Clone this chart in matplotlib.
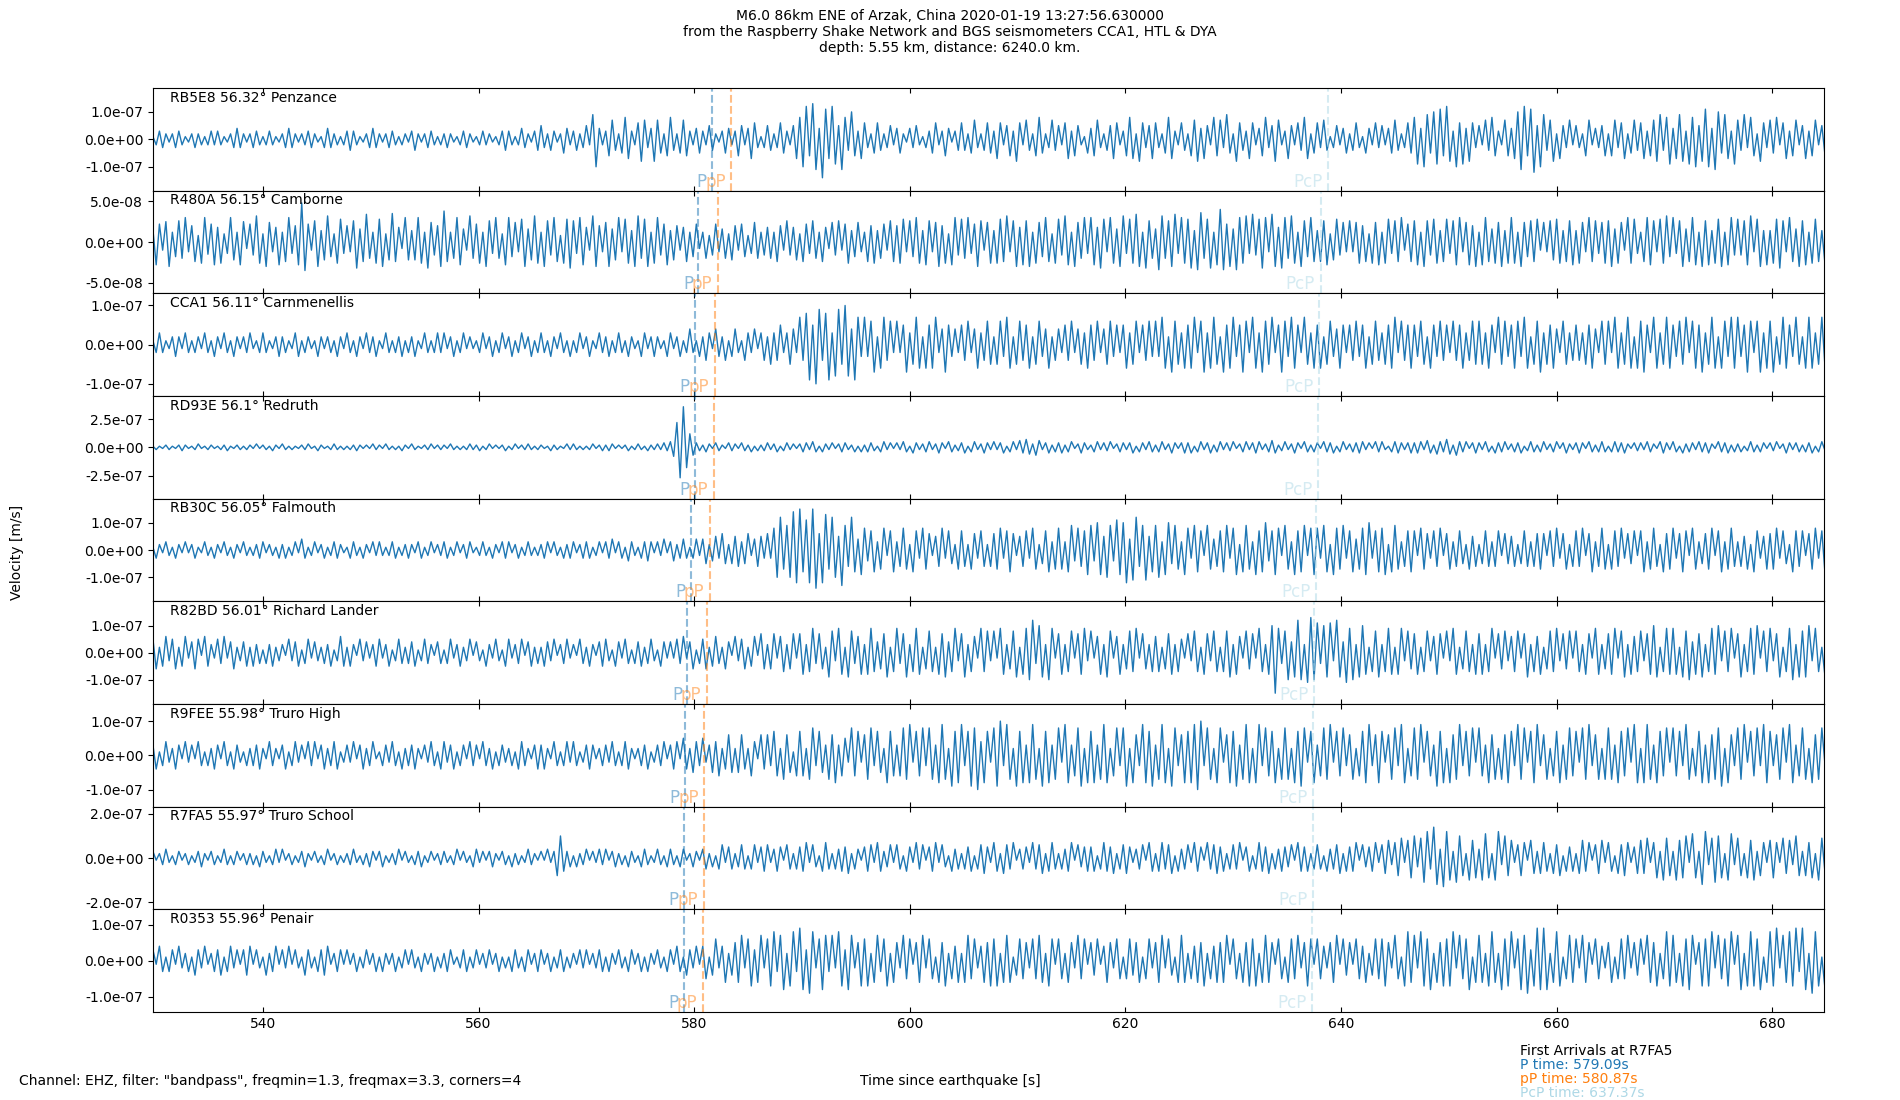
"""
Seismic record section: M6.0 Arzak event on Cornish Raspberry Shake / BGS stations
"""

import numpy as np
import matplotlib.pyplot as plt
from matplotlib.ticker import FormatStrFormatter

title = ("M6.0 86km ENE of Arzak, China 2020-01-19 13:27:56.630000\n"
         "from the Raspberry Shake Network and BGS seismometers CCA1, HTL & DYA\n"
         "depth: 5.55 km, distance: 6240.0 km.")
filter_note = 'Channel: EHZ, filter: "bandpass", freqmin=1.3, freqmax=3.3, corners=4'

stations = ["RB5E8", "R480A", "CCA1", "RD93E", "RB30C", "R82BD", "R9FEE", "R7FA5", "R0353"]
distances = [56.32, 56.15, 56.11, 56.1, 56.05, 56.01, 55.98, 55.97, 55.96]
places = ["Penzance", "Camborne", "Carnmenellis", "Redruth", "Falmouth",
          "Richard Lander", "Truro High", "Truro School", "Penair"]

# phase arrival times [s since origin]
p_times = [581.65, 580.40, 580.11, 580.04, 579.67, 579.38, 579.16, 579.09, 579.02]
pp_times = [583.43, 582.18, 581.89, 581.82, 581.45, 581.16, 580.94, 580.87, 580.80]
pcp_times = [638.79, 638.10, 637.94, 637.90, 637.69, 637.53, 637.41, 637.37, 637.33]

# traces start at 529.8 s, one value every 0.3 s
t_start = 529.8
dt = 0.3

# velocity samples, units below (1e-8 m/s, R480A in 1e-9 m/s)
units = [1e-8, 1e-9, 1e-8, 1e-8, 1e-8, 1e-8, 1e-8, 1e-8, 1e-8]

rb5e8 = [
    1,-2,3,-3,2,-1,2,-3,3,-2, 1,-1,2,-3,2,-2,1,-2,3,-2, 3,-2,1,-1,2,-3,4,-3,2,-1,
    2,-3,3,-2,1,-2,3,-2,1,-1, 2,-3,4,-3,2,-1,2,-2,3,-3, 2,-1,1,-3,4,-3,2,-2,1,-2,
    3,-4,3,-2,1,-1,2,-3,4,-3, 2,-1,2,-3,3,-2,1,-2,2,-1, 3,-4,2,-1,2,-3,3,-2,1,-2,
    2,-3,2,-1,1,-2,3,-3,2,-1, 1,-2,3,-2,2,-1,1,-2,3,-4, 3,-2,1,-2,4,-3,2,-1,3,-4,
    5,-3,2,-4,3,-1,2,-5,4,-2, 3,-4,2,-3,5,-2,9,-10,4,-2, 3,-6,7,-4,2,-5,8,-7,3,-2,
    6,-8,7,-3,4,-8,7,-5,2,-6, 8,-4,2,-5,7,-6,3,-2,4,-5, 3,-2,5,-4,2,-1,3,-5,4,-2,
    3,-6,5,-2,4,-7,6,-3,1,-3, 5,-4,2,-3,6,-5,3,-2,5,-7, 8,-10,12,-6,13,-11,4,-14,11,-7,
    12,-9,5,-11,8,-4,10,-6,3,-7, 6,-3,2,-5,6,-4,2,-3,5,-2, 4,-5,2,-1,4,-3,5,-2,1,-3,
    3,-5,6,-2,3,-6,4,-1,3,-4, 6,-4,2,-5,7,-3,2,-4,6,-5, 3,-7,6,-2,5,-6,3,-8,6,-2,
    7,-4,2,-6,8,-5,2,-3,7,-4, 5,-2,6,-7,3,-6,5,-2,1,-5, 4,-6,7,-3,2,-4,5,-7,6,-2,
    3,-6,8,-7,2,-8,6,-3,5,-7, 6,-3,2,-5,8,-7,3,-2,6,-4, 2,-6,7,-8,4,-7,5,-2,8,-6,
    7,-3,9,-5,2,-8,6,-4,3,-7, 6,-2,4,-6,8,-3,5,-8,7,-2, 3,-7,5,-2,6,-4,8,-7,2,-5,
    6,-3,7,-4,1,-3,5,-2,4,-5, 2,-4,6,-3,1,-5,4,-2,6,-3, 5,-2,4,-5,7,-4,2,-3,6,-5,
    8,-9,4,-10,9,-5,10,-9,11,-6, 12,-8,3,-10,6,-9,4,-8,6,-3, 5,-2,7,-4,8,-6,3,-2,7,-6,
    4,-7,10,-11,12,-6,11,-12,5,-10, 9,-4,7,-8,2,-7,5,-3,7,-2, 5,-3,2,-6,7,-2,4,-3,5,-6,
    2,-6,7,-3,6,-7,2,-5,7,-4, 6,-7,3,-6,7,-8,9,-4,8,-9, 4,-7,9,-8,3,-9,8,-10,5,-8,
    11,-10,4,-11,10,-5,9,-7,3,-9, 7,-4,9,-3,8,-6,2,-8,6,-3, 7,-5,8,-2,6,-7,3,-6,7,-2,
    5,-7,3,-6,7,-2,5,-6,4,-5,
]

r480a = [
    15,-28,22,-10,25,-30,12,-18,26,-20, 30,-12,20,-24,8,-26,30,-15,22,-28,
    18,-26,10,-14,30,-22,12,-28,25,-8, 22,-16,32,-26,10,-30,24,-12,18,-28,
    12,-24,30,-14,20,-28,48,-35,22,-10, 26,-30,14,-22,32,-18,10,-26,28,-14,
    20,-12,26,-32,16,-24,34,-20,12,-26, 28,-30,10,-22,35,-24,18,-8,30,-22,
    14,-22,30,-26,12,-32,24,-16,20,-30, 38,-24,12,-20,30,-28,16,-10,32,-20,
    22,-26,12,-30,26,-14,30,-20,10,-28, 30,-18,24,-12,28,-30,16,-22,32,-26,
    12,-30,26,-16,30,-24,8,-26,28,-32, 26,-14,30,-28,18,-10,32,-30,20,-12,
    24,-30,16,-22,30,-12,28,-26,14,-30, 32,-20,28,-30,12,-26,30,-16,22,-28,
    14,-22,20,-10,18,-24,12,-18,22,-8, 12,-20,8,-16,22,-12,16,-20,10,-22,
    20,-10,22,-18,8,-14,24,-20,12,-16, 18,-20,12,-24,20,-10,26,-16,18,-22,
    10,-24,22,-14,26,-20,12,-24,18,-8, 24,-16,26,-10,22,-26,14,-18,24,-12,
    12,-24,20,-26,14,-20,22,-10,26,-24, 20,-26,28,-12,26,-18,30,-26,14,-28,
    26,-12,24,-30,20,-26,10,-28,30,-16, 28,-20,30,-14,22,-30,26,-10,24,-26,
    14,-26,28,-24,32,-12,26,-30,18,-28, 26,-30,12,-26,24,-18,30,-24,10,-26,
    28,-16,32,-28,12,-30,24,-20,30,-14, 30,-28,18,-32,28,-12,30,-26,16,-30,
    32,-14,28,-26,34,-30,12,-32,26,-20, 16,-34,32,-20,26,-30,34,-14,30,-26,
    28,-32,14,-34,36,-20,28,-32,12,-28, 40,-34,22,-30,16,-34,30,-26,32,-14,
    34,-16,28,-32,30,-12,34,-30,18,-32, 30,-20,32,-26,12,-30,26,-18,30,-24,
    14,-24,26,-28,10,-22,28,-16,24,-12, 26,-12,24,-26,20,-24,10,-26,24,-28,
    12,-26,28,-14,26,-24,30,-10,22,-24, 26,-28,12,-30,26,-16,28,-26,14,-24,
    28,-14,26,-28,30,-12,24,-28,20,-30, 12,-28,30,-24,16,-26,24,-30,14,-26,
    30,-26,12,-30,24,-18,26,-24,28,-10, 24,-12,26,-22,28,-26,14,-24,26,-28,
    14,-26,24,-12,30,-24,26,-14,24,-26, 26,-30,16,-26,24,-10,30,-26,28,-14,
    12,-24,30,-28,26,-12,28,-26,32,-18, 30,-14,26,-30,16,-24,30,-28,12,-30,
    26,-28,14,-26,28,-30,12,-28,30,-16, 28,-16,26,-28,32,-12,28,-30,14,-28,
    14,-26,28,-32,26,-12,30,-24,16,-30, 26,-28,12,-26,28,-24,14,-28,26,-10,
]

cca1 = [
    1,-2,3,-2,1,-1,2,-3,2,-1, 3,-2,1,-2,2,-1,3,-2,1,-3, 2,-1,3,-2,1,-3,2,-1,2,-2,
    3,-1,1,-2,3,-2,1,-1,2,-3, 2,-2,1,-1,3,-3,1,-2,2,-1, 1,-3,2,-1,2,-2,1,-3,2,-1,
    3,-2,1,-3,2,-1,3,-2,2,-3, 1,-1,3,-2,1,-2,2,-3,1,-2, 2,-3,1,-1,3,-2,1,-2,3,-2,
    3,-1,2,-3,1,-2,3,-1,2,-1, 1,-2,3,-1,2,-3,1,-2,3,-1, 2,-3,1,-2,3,-1,2,-3,1,-2,
    3,-2,1,-3,2,-1,3,-2,1,-3, 1,-2,3,-1,2,-3,1,-1,3,-2, 2,-3,1,-2,3,-2,1,-3,2,-1,
    1,-3,3,-1,2,-3,2,-1,1,-3, 3,-1,2,-3,1,-2,4,-2,1,-3, 2,-4,3,-1,4,-3,2,-4,1,-3,
    4,-2,1,-4,3,-2,4,-1,3,-4, 2,-5,3,-4,5,-2,3,-5,4,-2, 7,-4,8,-9,5,-10,9,-4,8,-9,
    3,-8,9,-5,10,-8,4,-9,7,-3, 7,-3,6,-7,2,-6,7,-4,6,-2, 6,-2,5,-7,3,-5,7,-6,2,-6,
    5,-6,7,-2,4,-7,5,-3,4,-2, 5,-4,6,-2,4,-6,3,-4,6,-5, 2,-5,6,-3,7,-6,2,-5,6,-4,
    5,-6,2,-5,6,-3,4,-6,2,-4, 4,-2,5,-4,6,-2,4,-5,3,-6, 5,-4,6,-2,4,-5,6,-3,5,-2,
    5,-6,3,-5,6,-2,5,-4,6,-3, 6,-3,7,-6,2,-7,6,-5,3,-6, 5,-6,7,-2,6,-7,3,-6,7,-5,
    2,-7,5,-6,7,-3,5,-7,6,-2, 7,-6,3,-7,6,-5,7,-2,5,-7, 6,-3,7,-6,5,-2,7,-5,3,-6,
    5,-6,2,-5,6,-3,4,-6,5,-2, 5,-4,6,-3,5,-6,2,-5,6,-4, 3,-5,5,-6,7,-2,6,-4,5,-6,
    5,-3,6,-5,2,-6,5,-3,6,-4, 5,-2,6,-4,5,-6,3,-4,6,-5, 6,-5,3,-6,5,-2,7,-5,6,-3,
    5,-6,6,-3,7,-6,2,-5,6,-7, 3,-5,5,-6,4,-2,6,-5,3,-4, 5,-4,3,-5,5,-6,4,-2,6,-5,
    6,-2,7,-6,3,-5,7,-6,2,-6, 6,-7,5,-2,7,-6,3,-5,7,-6, 5,-3,6,-5,7,-2,6,-6,5,-7,
    3,-5,7,-6,2,-6,6,-3,7,-6, 7,-3,5,-7,6,-2,6,-7,3,-6, 6,-7,2,-5,7,-6,5,-3,7,-5,
    2,-6,7,-6,3,-5,7,-6,5,-2,
]

rd93e = [
    1,-2,1,-1,2,-2,1,-1,2,-3, 2,-1,1,-2,3,-1,1,-2,2,-1, 1,-2,2,-3,1,-1,2,-2,1,-2,
    2,-1,3,-1,2,-2,1,-3,2,-1, 3,-2,1,-2,1,-1,2,-2,3,-1, 1,-3,2,-1,1,-2,3,-2,1,-2,
    1,-2,2,-3,2,-1,2,-1,3,-2, 2,-1,3,-2,1,-2,1,-3,2,-1, 3,-2,1,-1,2,-2,3,-1,2,-2,
    2,-1,3,-2,1,-2,1,-2,3,-2, 2,-3,1,-2,3,-1,2,-1,2,-3, 1,-2,3,-1,2,-2,3,-2,1,-2,
    2,-1,1,-3,2,-2,1,-1,3,-2, 3,-2,1,-2,1,-2,3,-1,2,-3, 2,-3,3,-1,2,-1,2,-3,1,-2,
    3,-2,1,-3,2,-2,3,-2,4,-3, 5,-8,22,-27,36,-18,12,-7,4,-3, 2,-4,3,-1,4,-3,2,-1,4,-3,
    3,-1,4,-3,2,-4,1,-3,2,-3, 4,-2,3,-4,1,-3,4,-2,3,-1, 3,-4,4,-2,5,-4,1,-4,3,-2,
    4,-1,3,-4,4,-2,2,-4,1,-4, 2,-4,4,-3,1,-4,5,-2,4,-1, 4,-2,5,-4,1,-5,4,-2,3,-4,
    5,-2,3,-5,4,-1,5,-4,2,-3, 4,-5,1,-4,5,-2,3,-5,4,-2, 5,-2,4,-5,1,-4,5,-2,6,-5,
    7,-6,3,-7,6,-2,4,-5,2,-4, 4,-5,2,-4,5,-1,3,-5,4,-2, 2,-4,5,-2,4,-3,5,-1,3,-4,
    4,-2,4,-5,1,-4,4,-2,5,-4, 2,-4,5,-2,3,-5,4,-1,4,-5, 4,-5,1,-4,5,-2,4,-5,2,-4,
    5,-2,4,-3,5,-1,3,-4,5,-2, 4,-5,5,-2,3,-4,6,-5,2,-3, 5,-2,3,-5,4,-1,5,-4,2,-4,
    4,-1,5,-4,4,-5,1,-4,5,-2, 3,-4,4,-5,5,-2,4,-1,5,-4, 5,-2,1,-4,5,-5,4,-2,4,-5,
    4,-5,5,-2,6,-5,2,-6,5,-4, 7,-6,2,-7,5,-4,5,-1,4,-5, 4,-2,5,-4,1,-5,4,-4,5,-2,
    3,-4,4,-5,1,-3,5,-4,2,-4, 5,-2,3,-4,5,-1,4,-5,3,-2, 4,-5,4,-1,5,-4,2,-4,5,-4,
    1,-4,5,-4,4,-5,3,-1,4,-3, 4,-2,5,-4,3,-1,5,-5,4,-2, 5,-4,1,-5,3,-4,4,-2,5,-4,
    4,-5,3,-1,5,-4,4,-5,2,-4, 3,-4,1,-3,5,-4,2,-4,4,-1, 4,-3,5,-1,3,-5,4,-2,4,-4,
    2,-4,4,-5,1,-4,5,-3,2,-3,
]

rb30c = [
    1,-3,2,-1,3,-2,1,-3,2,-1, 3,-1,2,-3,1,-1,3,-2,1,-3, 2,-1,3,-2,1,-3,2,-1,3,-2,
    1,-2,2,-3,3,-1,2,-2,1,-3, 2,-3,1,-2,3,-1,4,-3,1,-2, 3,-1,2,-3,1,-2,3,-3,2,-1,
    1,-3,3,-2,1,-3,2,-1,3,-2, 3,-2,1,-2,3,-3,1,-2,2,-3, 2,-1,3,-3,1,-2,3,-1,2,-2,
    3,-3,1,-2,3,-1,2,-3,3,-1, 1,-2,3,-2,1,-3,2,-1,3,-3, 3,-1,2,-3,1,-2,3,-2,1,-2,
    2,-3,3,-1,3,-2,1,-3,2,-3, 3,-1,2,-3,3,-3,1,-2,3,-1, 3,-3,4,-1,3,-3,1,-4,3,-2,
    1,-3,3,-4,3,-1,3,-2,4,-1, 3,-4,2,-3,4,-3,1,-3,4,-2, 4,-5,2,-4,5,-3,6,-5,2,-5,
    5,-6,3,-5,6,-2,4,-6,5,-3, 6,-3,8,-10,12,-7,9,-10,14,-12, 15,-8,11,-12,15,-14,6,-12,13,-7,
    12,-10,5,-13,9,-6,12,-8,4,-9, 8,-4,7,-8,3,-7,8,-2,7,-8, 3,-6,8,-7,2,-8,7,-3,8,-7,
    6,-2,5,-6,8,-3,7,-5,2,-7, 7,-6,2,-7,6,-3,7,-6,2,-6, 6,-7,8,-3,7,-8,6,-2,5,-6,
    7,-3,8,-7,2,-5,7,-8,3,-7, 8,-7,3,-8,9,-4,8,-6,7,-9, 9,-4,10,-9,5,-10,9,-4,11,-9,
    10,-12,4,-11,12,-6,9,-11,5,-8, 9,-10,3,-9,10,-5,9,-7,3,-9, 8,-3,9,-8,7,-2,9,-7,4,-6,
    7,-8,9,-3,8,-9,2,-8,9,-7, 3,-9,7,-8,10,-4,7,-9,8,-2, 9,-7,3,-9,7,-8,9,-2,8,-9,
    8,-3,9,-8,2,-9,8,-7,9,-3, 7,-8,4,-7,8,-9,10,-3,7,-8, 8,-9,2,-8,9,-7,3,-6,7,-8,
    7,-2,8,-7,6,-3,7,-6,8,-2, 6,-7,3,-6,7,-5,2,-7,5,-6, 2,-5,7,-6,3,-6,7,-2,6,-5,
    5,-6,2,-5,7,-6,3,-6,6,-7, 6,-2,7,-6,8,-3,6,-7,2,-6, 7,-6,8,-2,6,-8,3,-6,8,-7,
    2,-7,7,-6,8,-3,6,-5,7,-2, 7,-8,3,-7,8,-6,2,-8,6,-7, 8,-3,6,-8,7,-2,8,-7,3,-5,
    6,-7,8,-2,7,-8,3,-7,8,-6, 3,-6,5,-7,2,-8,7,-3,5,-7, 6,-7,8,-3,7,-5,2,-8,7,-6,
    7,-2,6,-7,8,-3,7,-9,2,-7,
]

r82bd = [
    5,-6,2,-5,6,-3,5,-6,2,-5, 6,-2,4,-6,5,-1,6,-5,3,-2, 5,-4,6,-2,4,-6,2,-3,4,-5,
    2,-5,3,-4,1,-4,3,-5,2,-3, 3,-1,5,-3,4,-5,1,-4,5,-2, 4,-3,2,-4,3,-5,1,-3,6,-5,
    2,-5,3,-1,5,-3,4,-2,3,-5, 5,-2,3,-5,1,-3,5,-4,2,-4, 4,-5,1,-3,5,-4,3,-1,4,-4,
    1,-4,5,-2,3,-5,2,-3,5,-1, 4,-3,1,-5,3,-2,5,-3,1,-5, 5,-2,3,-4,5,-1,4,-5,2,-4,
    2,-5,4,-3,5,-1,3,-4,5,-2, 3,-1,5,-4,2,-5,3,-1,4,-5, 5,-3,1,-5,4,-2,5,-4,1,-4,
    4,-5,2,-4,5,-3,1,-5,4,-2, 4,-2,5,-4,6,-2,4,-6,1,-4, 5,-6,2,-5,6,-4,2,-6,4,-1,
    6,-3,5,-6,2,-5,6,-1,7,-6, 3,-6,7,-2,6,-7,3,-6,7,-2, 7,-8,3,-7,9,-4,7,-6,2,-9,
    8,-3,9,-8,2,-9,8,-4,6,-8, 3,-8,9,-7,4,-6,7,-9,2,-7, 9,-4,7,-9,3,-7,9,-8,2,-6,
    8,-7,2,-8,7,-9,4,-7,9,-3, 7,-9,3,-7,6,-2,9,-7,8,-3, 8,-2,9,-8,3,-6,8,-9,2,-8,
    9,-10,12,-4,10,-9,3,-10,9,-2, 7,-8,3,-7,8,-2,7,-8,9,-3, 8,-2,6,-8,3,-9,8,-2,6,-8,
    3,-6,8,-7,9,-2,7,-6,3,-7, 6,-7,2,-6,7,-8,3,-7,5,-2, 7,-3,8,-7,2,-8,7,-3,8,-7,
    2,-7,8,-9,3,-8,6,-2,8,-6, 7,-2,9,-7,3,-8,10,-15,9,-4, 8,-10,4,-9,12,-10,3,-11,13,-10,
    11,-4,10,-9,11,-3,12,-9,4,-11, 9,-10,3,-9,10,-8,2,-7,8,-9, 3,-7,9,-8,2,-8,9,-3,8,-6,
    7,-8,2,-7,8,-3,6,-8,7,-2, 8,-3,9,-8,2,-6,8,-7,3,-8, 7,-8,3,-7,9,-2,7,-6,8,-3,
    6,-7,8,-2,7,-9,3,-7,6,-8, 2,-6,8,-7,9,-3,7,-6,8,-2, 8,-7,3,-8,7,-2,9,-8,3,-6,
    7,-8,9,-2,8,-9,3,-8,6,-7, 8,-3,7,-8,10,-9,2,-7,9,-8, 9,-8,2,-9,8,-10,4,-8,7,-9,
    3,-7,9,-8,10,-3,8,-7,9,-2, 7,-9,3,-7,9,-8,10,-2,8,-7, 9,-3,7,-9,2,-7,9,-10,3,-9,
    8,-9,10,-3,9,-7,2,-9,7,-8,
]

r9fee = [
    3,-4,1,-3,4,-2,2,-4,3,-1, 4,-2,3,-1,4,-3,1,-3,2,-4, 3,-1,4,-3,1,-4,3,-2,1,-3,
    2,-3,3,-4,2,-1,4,-3,2,-1, 3,-4,1,-3,4,-2,3,-1,4,-3, 4,-1,3,-4,2,-3,4,-4,1,-2,
    3,-2,4,-1,3,-4,2,-3,4,-1, 1,-3,3,-2,4,-3,1,-4,2,-3, 3,-4,2,-1,3,-2,4,-3,1,-4,
    4,-2,3,-4,1,-3,3,-1,4,-3, 3,-1,4,-3,2,-4,1,-3,3,-2, 2,-3,1,-4,4,-3,2,-1,3,-4,
    3,-4,2,-1,4,-3,1,-3,4,-2, 4,-3,1,-2,3,-4,3,-1,2,-3, 3,-2,4,-3,1,-3,4,-4,2,-1,
    2,-3,3,-4,1,-2,3,-3,4,-1, 3,-4,4,-1,5,-4,2,-5,4,-3, 5,-2,3,-5,4,-6,2,-4,6,-5,
    2,-5,6,-4,2,-6,4,-1,6,-4, 6,-3,7,-6,2,-7,6,-5,1,-6, 7,-6,2,-7,8,-3,7,-5,3,-7,
    6,-8,3,-6,5,-2,8,-6,7,-2, 6,-7,8,-3,7,-5,2,-8,7,-6, 3,-6,8,-7,9,-2,7,-6,8,-3,
    8,-7,3,-8,9,-7,2,-9,7,-8, 9,-3,7,-9,8,-10,4,-8,7,-2, 8,-9,10,-3,9,-7,2,-9,7,-8,
    3,-8,9,-7,2,-9,7,-8,3,-7, 8,-2,9,-8,3,-6,8,-9,2,-8, 7,-8,3,-7,9,-8,2,-6,8,-3,
    8,-9,2,-8,6,-3,9,-8,7,-9, 3,-7,9,-8,2,-9,8,-3,6,-8, 7,-8,9,-10,10,-3,8,-7,2,-8,
    8,-2,6,-8,7,-9,3,-7,9,-8, 2,-8,9,-3,8,-6,7,-8,2,-7, 8,-7,2,-8,7,-9,8,-2,7,-8,
    3,-6,8,-7,9,-2,7,-6,8,-3, 6,-7,2,-6,7,-8,9,-3,6,-8, 7,-2,6,-7,8,-3,9,-8,2,-6,
    8,-7,9,-2,7,-6,3,-9,7,-8, 2,-8,6,-7,9,-3,7,-6,8,-2, 8,-6,3,-8,6,-7,2,-7,6,-8,
    7,-3,9,-7,8,-2,7,-8,9,-3, 6,-7,2,-6,7,-8,3,-7,8,-6, 7,-2,8,-7,9,-3,6,-7,2,-7,
    8,-7,3,-8,7,-6,8,-2,9,-8, 2,-8,9,-7,3,-8,7,-6,8,-2, 8,-6,7,-3,9,-7,2,-6,7,-8,
    3,-8,6,-7,8,-9,2,-8,6,-3, 8,-7,9,-2,7,-6,8,-3,9,-8, 7,-3,6,-7,8,-2,9,-8,3,-6,
    8,-7,2,-8,6,-7,8,-3,7,-8,
]

r7fa5 = [
    3,-1,2,-3,4,-2,1,-3,3,-1, 2,-3,1,-2,3,-4,2,-1,3,-3, 1,-2,4,-3,1,-3,3,-1,2,-3,
    2,-3,1,-4,3,-2,1,-3,4,-2, 4,-1,2,-3,1,-2,3,-4,2,-1, 3,-2,1,-3,4,-1,2,-3,1,-2,
    2,-3,4,-2,1,-3,2,-4,3,-1, 3,-4,1,-2,2,-3,4,-1,3,-2, 1,-3,3,-4,1,-2,3,-1,2,-3,
    3,-2,1,-3,4,-1,3,-2,1,-4, 4,-2,3,-1,3,-4,2,-1,3,-3, 1,-4,2,-3,1,-2,4,-3,2,-1,
    3,-1,4,-2,3,-8,10,-6,3,-4, 1,-4,2,-3,4,-1,3,-2,4,-3, 4,-1,3,-4,2,-3,1,-4,3,-2,
    1,-4,4,-3,1,-2,4,-3,1,-4, 4,-3,1,-4,4,-1,2,-4,3,-1, 4,-5,2,-4,1,-5,6,-2,5,-5,
    2,-4,6,-5,1,-5,6,-2,5,-6, 6,-2,4,-6,5,-1,6,-5,2,-5, 5,-6,7,-2,6,-4,1,-6,7,-5,
    2,-5,4,-6,5,-7,2,-5,4,-1, 5,-6,6,-2,7,-6,3,-4,6,-2, 6,-5,1,-6,5,-2,7,-5,6,-1,
    5,-6,7,-2,6,-4,1,-6,4,-5, 2,-5,5,-6,1,-5,6,-7,5,-2, 7,-6,2,-7,6,-5,7,-1,4,-5,
    5,-2,7,-5,6,-7,2,-6,7,-5, 2,-5,4,-6,7,-1,6,-4,5,-6, 5,-6,1,-5,7,-6,5,-7,2,-5,
    6,-7,5,-2,4,-5,6,-1,7,-6, 2,-6,7,-5,6,-7,1,-6,4,-5, 6,-2,7,-6,5,-1,7,-5,6,-7,
    5,-6,2,-5,6,-5,7,-1,5,-6, 1,-5,7,-6,5,-7,2,-5,4,-6, 5,-4,6,-1,7,-6,5,-6,2,-5,
    6,-5,1,-6,4,-5,6,-7,2,-6, 5,-6,7,-1,6,-4,5,-6,7,-2, 6,-7,8,-3,7,-8,9,-2,8,-9,
    10,-4,9,-11,12,-5,14,-12,4,-13, 12,-10,3,-11,10,-8,2,-10,8,-9, 4,-10,11,-9,2,-10,12,-3,10,-8,
    8,-2,6,-8,7,-1,8,-7,3,-7, 7,-6,2,-7,6,-8,1,-6,5,-6, 2,-7,8,-6,7,-1,6,-7,8,-2,
    7,-6,1,-7,6,-8,7,-2,5,-7, 8,-7,9,-2,7,-9,3,-10,9,-8, 3,-10,8,-9,10,-2,11,-9,3,-12,
    12,-3,9,-11,10,-9,2,-10,11,-3, 9,-8,2,-9,8,-10,3,-8,7,-2, 8,-9,7,-2,9,-7,8,-3,10,-8,
    3,-8,7,-9,2,-10,9,-7,2,-9,
]

r0353 = [
    3,-1,4,-3,1,-3,3,-1,4,-2, 2,-3,1,-4,3,-2,4,-1,2,-3, 3,-4,1,-3,4,-2,3,-1,3,-4,
    4,-1,3,-2,1,-4,2,-3,4,-1, 3,-2,4,-1,3,-2,1,-4,3,-2, 1,-3,3,-4,4,-1,2,-3,3,-1,
    3,-1,2,-3,1,-2,3,-1,2,-3, 1,-3,2,-1,2,-3,1,-2,3,-1, 3,-2,1,-3,2,-1,2,-3,1,-2,
    2,-3,3,-1,1,-2,3,-3,1,-2, 3,-1,2,-2,3,-1,2,-3,1,-2, 1,-3,3,-2,1,-3,3,-1,2,-3,
    3,-1,2,-3,1,-2,3,-3,1,-2, 2,-1,3,-2,3,-1,2,-2,3,-3, 1,-3,2,-1,3,-2,1,-3,3,-1,
    2,-3,1,-3,2,-1,3,-2,1,-3, 3,-1,4,-3,1,-4,3,-2,4,-1, 4,-5,1,-4,6,-2,4,-6,2,-4,
    5,-6,7,-2,6,-7,3,-6,7,-2, 6,-7,8,-3,7,-8,2,-7,8,-3, 9,-8,3,-9,8,-2,6,-8,7,-3,
    7,-2,8,-7,3,-8,7,-2,5,-7, 6,-7,2,-6,7,-3,6,-7,2,-6, 5,-2,7,-5,6,-1,5,-6,7,-2,
    6,-5,1,-6,5,-7,2,-5,4,-6, 2,-6,7,-5,6,-2,4,-6,5,-7, 6,-7,2,-6,7,-6,1,-4,6,-5,
    5,-2,6,-5,7,-6,2,-7,6,-1, 6,-5,2,-6,5,-2,7,-5,6,-1, 5,-4,6,-1,4,-6,5,-2,6,-5,
    1,-5,6,-4,5,-6,1,-5,6,-2, 5,-6,7,-2,6,-4,1,-6,7,-6, 2,-5,4,-6,5,-7,2,-5,4,-6,
    5,-6,7,-1,6,-5,2,-6,5,-7, 6,-7,2,-6,7,-6,5,-1,6,-5, 1,-6,6,-5,7,-2,5,-7,6,-1,
    6,-5,4,-2,5,-6,7,-1,6,-4, 5,-1,6,-5,4,-6,2,-4,6,-5, 6,-7,5,-2,7,-5,1,-7,8,-6,
    7,-2,8,-7,6,-8,2,-6,5,-7, 6,-7,8,-2,7,-5,6,-8,1,-6, 7,-6,2,-7,8,-6,2,-8,6,-7,
    8,-2,6,-8,7,-9,3,-7,9,-8, 9,-8,2,-6,8,-7,1,-5,7,-6, 6,-2,7,-6,5,-1,6,-5,4,-2,
    5,-6,1,-5,6,-5,7,-2,5,-4, 6,-1,7,-6,5,-7,2,-5,8,-7, 7,-6,2,-7,6,-8,7,-1,5,-7,
    6,-7,8,-2,7,-5,6,-7,8,-1, 7,-8,2,-7,8,-7,6,-8,1,-6, 8,-7,9,-2,7,-6,8,-7,9,-3,
    9,-8,2,-9,8,-7,1,-8,7,-6,
]

traces = [rb5e8, r480a, cca1, rd93e, rb30c, r82bd, r9fee, r7fa5, r0353]

# axis limits / ticks per panel
y_lims = [1.87e-7, 6.3e-8, 1.31e-7, 4.55e-7, 1.88e-7, 1.9e-7, 1.5e-7, 2.33e-7, 1.42e-7]
y_ticks = [1e-7, 5e-8, 1e-7, 2.5e-7, 1e-7, 1e-7, 1e-7, 2e-7, 1e-7]

fig, axes = plt.subplots(len(stations), 1, sharex=True, figsize=(19, 11), dpi=100)
fig.subplots_adjust(left=0.0805, right=0.96, top=0.92, bottom=0.08, hspace=0)

for i, ax in enumerate(axes):
    vals = np.array(traces[i]) * units[i]
    times = t_start + dt * np.arange(len(vals))
    ax.plot(times, vals, color="C0", lw=1.0)

    lim = y_lims[i]
    ax.set_ylim(-lim, lim)
    ax.set_yticks([-y_ticks[i], 0, y_ticks[i]])
    ax.yaxis.set_major_formatter(FormatStrFormatter("%.1e"))
    ax.tick_params(axis="x", direction="in", top=True, bottom=True)

    # arrivals
    for t, lab, col in [(p_times[i], "P", "C0"), (pp_times[i], "pP", "C1"),
                        (pcp_times[i], "PcP", "lightblue")]:
        ax.axvline(t, color=col, ls="--", lw=1.5, alpha=0.5)
        ax.text(t - 0.5, -lim, lab, color=col, alpha=0.5, fontsize=12,
                ha="right", va="bottom")

    ax.text(0.01, 0.975, f"{stations[i]} {distances[i]}° {places[i]}",
            transform=ax.transAxes, ha="left", va="top", fontsize=10)

axes[-1].set_xlim(529.8, 684.8)
axes[-1].set_xticks([540, 560, 580, 600, 620, 640, 660, 680])

fig.suptitle(title, fontsize=10, y=0.992, va="top")
fig.text(0.009, 0.498, "Velocity [m/s]", rotation=90, ha="center", va="center", fontsize=10)
fig.text(0.5, 0.017, "Time since earthquake [s]", ha="center", va="center", fontsize=10)
fig.text(0.01, 0.017, filter_note, ha="left", va="center", fontsize=10)

fig.text(0.8, 0.0445, "First Arrivals at R7FA5", ha="left", va="center", fontsize=10)
fig.text(0.8, 0.0318, f"P time: {p_times[7]:.2f}s", color="C0", ha="left", va="center", fontsize=10)
fig.text(0.8, 0.019, f"pP time: {pp_times[7]:.2f}s", color="C1", ha="left", va="center", fontsize=10)
fig.text(0.8, 0.006, f"PcP time: {pcp_times[7]:.2f}s", color="lightblue", ha="left", va="center", fontsize=10)

fig.savefig("out.png", dpi=100)
